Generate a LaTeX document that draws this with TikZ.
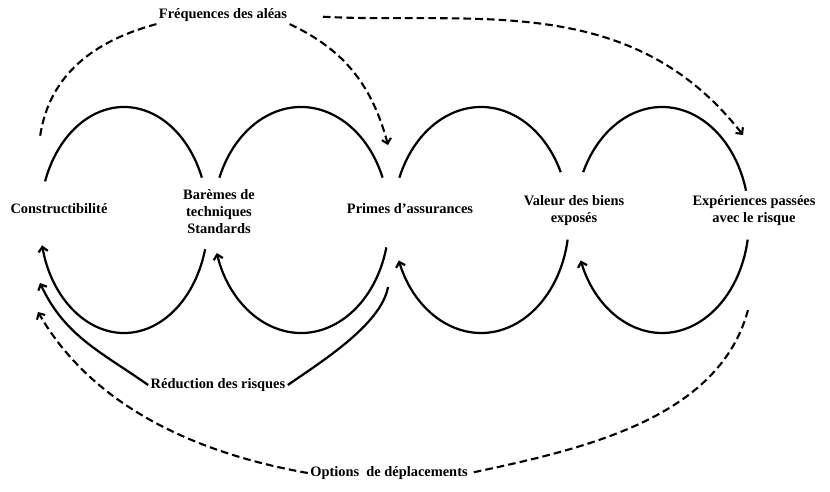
\documentclass[tikz,border=0pt]{standalone}
\usepackage{fontspec}
\setmainfont{Liberation Serif}
\usetikzlibrary{arrows.meta}

\begin{document}
\begin{tikzpicture}[x=0.03cm, y=0.03cm, >={Straight Barb[length=4pt, width=8pt]},
        lbl/.style={font=\fontsize{12.3}{14.5}\selectfont\bfseries, align=center, inner sep=2pt},
        ring/.style={line width=1.9pt},
        dashlink/.style={line width=1.8pt, dash pattern=on 6.5pt off 3.5pt}]
            \useasboundingbox (0,0) rectangle (830,491);
            \fill [white] (0,0) rectangle (830,491);
            % the four loops, top and bottom halves
            \foreach \cx/\rx/\ua/\ub/\la/\lb in {124/84/160/22/-15/-167,
                301/88/158/22/-14/-163, 481/88/158/25/-10/-159,
                662/87/155/15/-10/-159}{
                \draw [ring] ([shift={(\ua:{\rx} and 113)}]\cx,271) arc
                    [start angle=\ua, end angle=\ub, x radius=\rx, y radius=113];
                \draw [ring, ->] ([shift={(\la:{\rx} and 113)}]\cx,271) arc
                    [start angle=\la, end angle=\lb, x radius=\rx, y radius=113];
            }
            \node [lbl] (freq) at (223,476) {Fréquences des aléas};
            \node [lbl] (constr) at (59,282) {Constructibilité};
            \node [lbl] (bareme) at (219,279) {Barèmes de\\techniques\\Standards};
            \node [lbl] (primes) at (410,282) {Primes d’assurances};
            \node [lbl] (valeur) at (574,280) {Valeur des biens\\exposés};
            \node [lbl] (exper) at (754,280) {Expériences passées\\avec le risque};
            \node [lbl] (reduc) at (218,106) {Réduction des risques};
            \node [lbl] (option) at (389,18) {Options\ \ de déplacements};
            \coordinate (freqL) at (40,354);
            \coordinate (primesT) at (388,346);
            \coordinate (experT) at (743,356);
            \coordinate (constrB1) at (40,208);
            \coordinate (primesB) at (388,204);
            \coordinate (constrB2) at (38,179);
            \coordinate (experB) at (748,181);
            % upper dashed links
            \draw [dashlink] (freq.south west) to [out=195, in=82] (freqL);
            \draw [dashlink, ->] (freq.south east) to [out=-25, in=105]
                (primesT);
            \draw [dashlink, ->, shorten <=1cm] (freq.east) to [out=-3,
                in=128] (experT);
            % lower links
            \draw [ring, ->] (reduc.west) to [out=145, in=-65] (constrB1);
            \draw [ring] (reduc.east) to [out=35, in=-100, looseness=0.7]
                (primesB);
            \draw [dashlink, ->] (option.west) to [out=170, in=-60,
                looseness=0.9] (constrB2);
            \draw [dashlink] (experB) to [out=-105, in=12, looseness=0.9]
                (option.east);
        \end{tikzpicture}
\end{document}
